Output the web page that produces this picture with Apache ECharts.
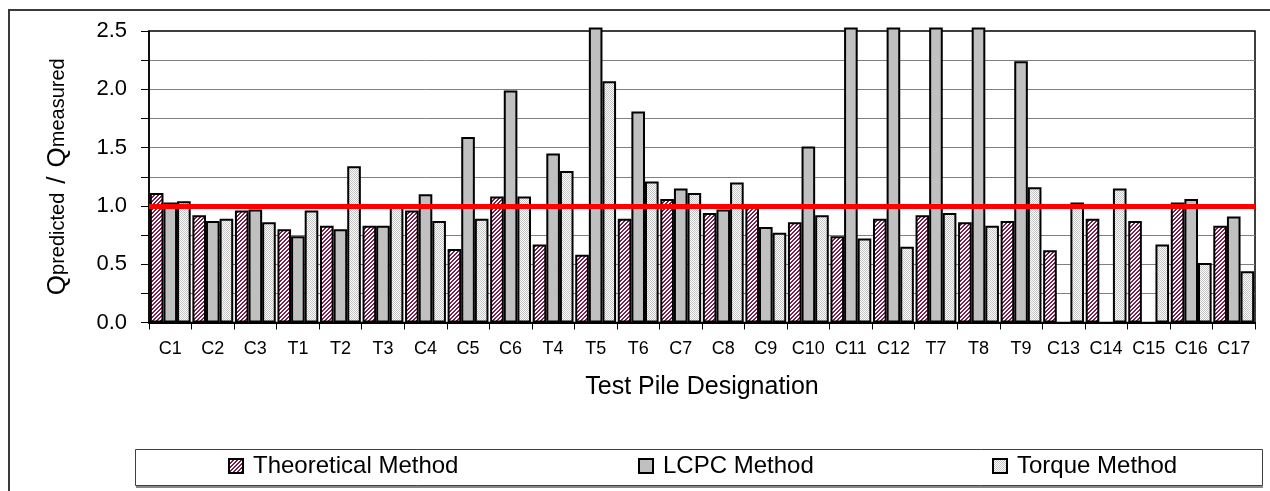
<!DOCTYPE html>
<html>
<head>
<meta charset="utf-8">
<script src="https://cdn.jsdelivr.net/npm/echarts@6/dist/echarts.min.js"></script>
<style>
html,body{margin:0;padding:0;background:#fff;}
#chart{width:1270px;height:491px;}
</style>
</head>
<body>
<div id="chart"></div>
<script>
// ---- data ----
const categories = ['C1','C2','C3','T1','T2','T3','C4','C5','C6','T4','T5','T6','C7','C8','C9','C10','C11','C12','T7','T8','T9','C13','C14','C15','C16','C17'];
const theoretical = [1.11,0.92,0.96,0.80,0.83,0.83,0.96,0.63,1.08,0.67,0.58,0.89,1.06,0.94,1.00,0.86,0.74,0.89,0.92,0.86,0.87,0.62,0.89,0.87,1.03,0.83];
const lcpc = [1.03,0.87,0.97,0.74,0.80,0.83,1.10,1.59,1.99,1.45,2.53,1.81,1.15,0.97,0.82,1.51,2.53,2.53,2.53,2.53,2.24,null,null,null,1.06,0.91];
const torque = [1.04,0.89,0.86,0.96,1.34,1.00,0.87,0.89,1.08,1.30,2.07,1.21,1.11,1.20,0.77,0.92,0.72,0.65,0.94,0.83,1.16,1.03,1.15,0.67,0.51,0.44];
const seriesNames = ['Theoretical Method','LCPC Method','Torque Method'];
const referenceValue = 1.0;
const yTicks = {min: 0, max: 2.5, interval: 0.25};

const FONT = "'Liberation Sans', Arial, sans-serif";

function makePattern(w, h, draw) {
  const c = document.createElement('canvas');
  c.width = w; c.height = h;
  const ctx = c.getContext('2d');
  draw(ctx);
  return c;
}
const hatch = makePattern(4, 4, ctx => {
  ctx.fillStyle = '#ffffff'; ctx.fillRect(0,0,4,4);
  ctx.fillStyle = '#7f1f4f';
  for (let x = 0; x < 4; x++) for (let y = 0; y < 4; y++) {
    const k = (x + y) % 4;
    if (k === 0 || k === 1) ctx.fillRect(x, y, 1, 1);
  }
});
const dots = makePattern(2, 2, ctx => {
  ctx.fillStyle = '#ffffff'; ctx.fillRect(0,0,2,2);
  ctx.fillStyle = '#c4c4c4';
  ctx.fillRect(0,0,1,1); ctx.fillRect(1,1,1,1);
});

const chart = echarts.init(document.getElementById('chart'), null, {renderer: 'canvas'});

const barBase = {
  type: 'bar',
  barGap: '0%',
  barCategoryGap: '4%',
  clip: false,
  emphasis: {disabled: true},
  animation: false
};

const legendCommon = {
  top: 454,
  padding: 0,
  icon: 'rect',
  itemWidth: 14,
  itemHeight: 14,
  selectedMode: false,
  textStyle: {fontFamily: FONT, fontSize: 24, color: '#000', padding: [0,0,0,5]}
};

const option = {
  animation: false,
  backgroundColor: '#fff',
  graphic: [
    {type: 'rect', shape: {x: 9, y: 10, width: 1300, height: 600}, style: {fill: 'none', stroke: '#3a3a3a', lineWidth: 2}, z: -10, silent: true},
    {type: 'rect', shape: {x: 136, y: 486, width: 1127, height: 2}, style: {fill: '#888'}, z: -9, silent: true},
    {type: 'rect', shape: {x: 135.5, y: 449.5, width: 1127, height: 36}, style: {fill: '#fff', stroke: '#404040', lineWidth: 1}, z: -8, silent: true}
  ],
  grid: {left: 149, right: 15, top: 31, bottom: 168.5, show: true, borderColor: '#000', borderWidth: 1.5, backgroundColor: 'transparent'},
  legend: [
    Object.assign({}, legendCommon, {left: 228, data: [seriesNames[0]]}),
    Object.assign({}, legendCommon, {left: 638, data: [seriesNames[1]]}),
    Object.assign({}, legendCommon, {left: 992, data: [seriesNames[2]]})
  ],
  xAxis: {
    type: 'category',
    data: categories,
    name: 'Test Pile Designation',
    nameLocation: 'middle',
    nameGap: 52,
    nameTextStyle: {fontFamily: FONT, fontSize: 25, color: '#000'},
    axisLine: {lineStyle: {color: '#000', width: 2}},
    axisTick: {show: true, length: 7, lineStyle: {color: '#000', width: 1}},
    axisLabel: {fontFamily: FONT, fontSize: 18, color: '#000', margin: 18, interval: 0},
    splitLine: {show: false}
  },
  yAxis: {
    type: 'value',
    min: yTicks.min,
    max: yTicks.max,
    interval: yTicks.interval,
    name: '{q|Q}{s|predicted}{sl|/}{q|Q}{s|measured}',
    nameLocation: 'middle',
    nameGap: 78,
    nameRotate: 90,
    nameTextStyle: {
      fontFamily: FONT, color: '#000',
      rich: {
        q: {fontFamily: FONT, fontSize: 26, color: '#000', verticalAlign: 'bottom'},
        s: {fontFamily: FONT, fontSize: 20, color: '#000', verticalAlign: 'bottom', padding: [0,0,3,0]},
        sl: {fontFamily: FONT, fontSize: 26, color: '#000', verticalAlign: 'bottom', padding: [0,9,0,9]}
      }
    },
    axisLine: {show: true, lineStyle: {color: '#000', width: 1.5}},
    axisTick: {show: true, length: 8, lineStyle: {color: '#000', width: 1}},
    axisLabel: {
      fontFamily: FONT, fontSize: 22, color: '#000', margin: 22,
      formatter: v => (Math.round(v * 100) % 50 === 0 ? v.toFixed(1) : '')
    },
    splitLine: {show: true, showMinLine: false, showMaxLine: false, lineStyle: {color: '#808080', width: 1}}
  },
  series: [
    Object.assign({}, barBase, {
      name: seriesNames[0], data: theoretical,
      itemStyle: {color: {image: hatch, repeat: 'repeat'}, borderColor: '#000', borderWidth: 2}
    }),
    Object.assign({}, barBase, {
      name: seriesNames[1], data: lcpc,
      itemStyle: {color: '#c0c0c0', borderColor: '#000', borderWidth: 2}
    }),
    Object.assign({}, barBase, {
      name: seriesNames[2], data: torque,
      itemStyle: {color: {image: dots, repeat: 'repeat'}, borderColor: '#000', borderWidth: 2},
      markLine: {
        silent: true, symbol: ['none','none'], z: 10,
        label: {show: false},
        lineStyle: {color: '#ff0000', width: 5, type: 'solid'},
        emphasis: {disabled: true},
        data: [{yAxis: referenceValue}]
      }
    })
  ]
};
chart.setOption(option);
</script>
</body>
</html>
